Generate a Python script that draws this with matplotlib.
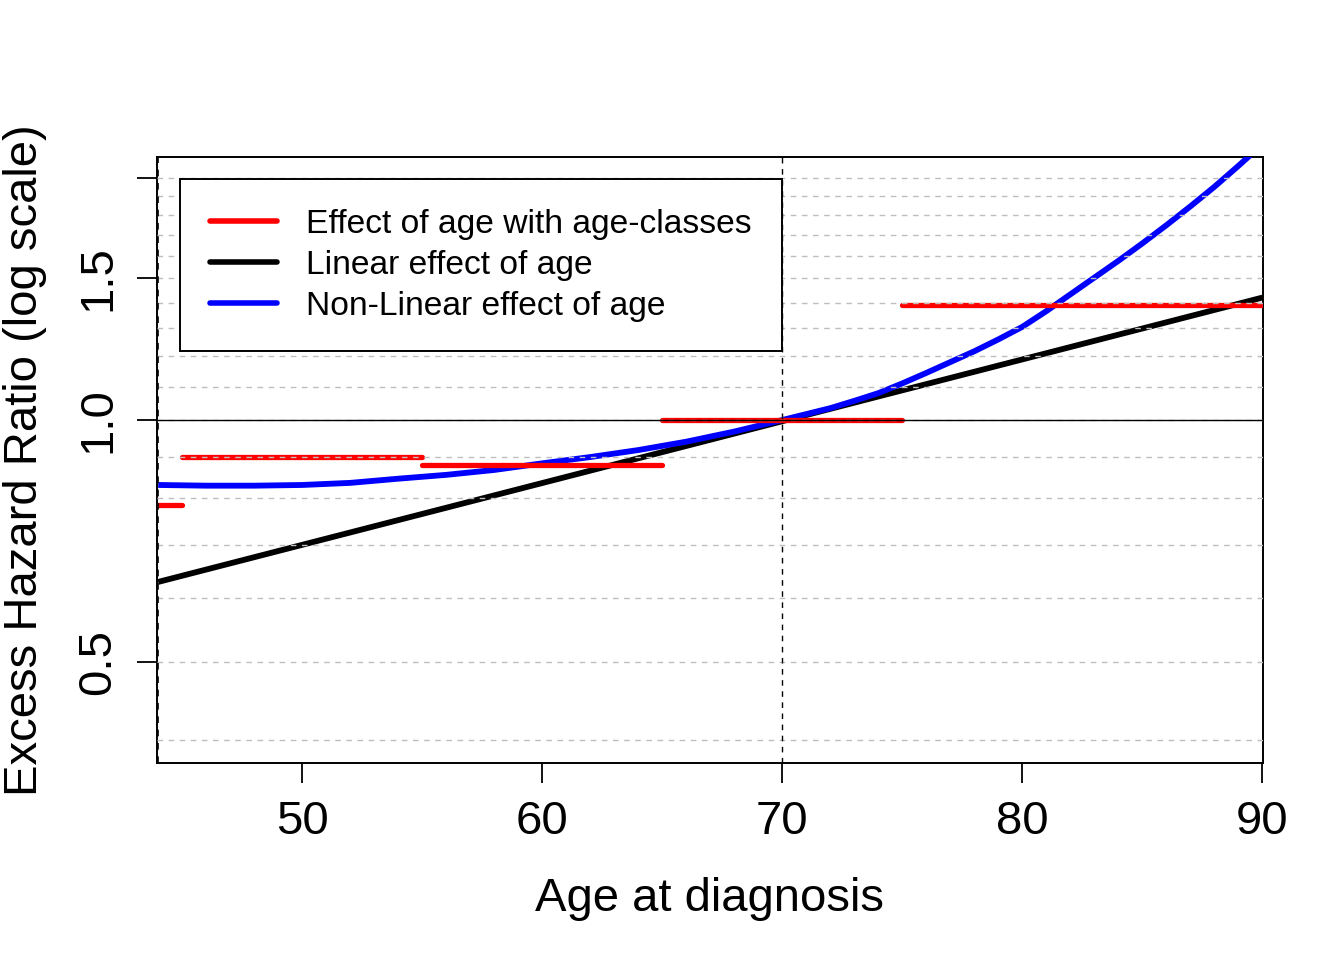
import numpy as np
import matplotlib.pyplot as plt
from matplotlib.lines import Line2D

plt.rcParams['font.family'] = ['Liberation Sans', 'DejaVu Sans']

# age classes (red steps)
class_start = [44, 45, 55, 65, 75]
class_end = [45, 55, 65, 75, 90]
class_hr = [0.784, 0.90, 0.879, 1.00, 1.39]

# linear effect of age (straight line on log scale)
lin_age = [44, 90]
lin_hr = [0.629, 1.42]

# non-linear effect of age (log HR)
nl_age = [44, 46, 48, 50, 52, 54, 56, 58, 60, 62, 64, 66, 68, 70,
          72, 73, 74, 75, 76, 77, 78, 79, 80, 81, 82, 83, 84, 85,
          86, 87, 88, 89, 90]
nl_loghr = [-0.186, -0.188, -0.188, -0.186, -0.180, -0.168, -0.157, -0.143,
            -0.124, -0.106, -0.086, -0.062, -0.033, 0.0,
            0.034, 0.055, 0.077, 0.105, 0.135, 0.166, 0.197, 0.231,
            0.267, 0.312, 0.360, 0.408, 0.456, 0.506, 0.558, 0.612,
            0.668, 0.728, 0.790]

grid_levels = np.round(np.arange(0.4, 2.01, 0.1), 1)
yticks = [0.5, 1.0, 1.5, 2.0]
ytick_labels = ['0.5', '1.0', '1.5', '']
xticks = [50, 60, 70, 80, 90]

fig = plt.figure(figsize=(13.44, 9.6), dpi=100)
ax = fig.add_axes([0.1168, 0.2052, 0.8229, 0.6313])

ax.plot(lin_age, lin_hr, color='black', lw=4.2, solid_capstyle='butt', zorder=3)
ax.plot(nl_age, np.exp(nl_loghr), color='blue', lw=4.2, solid_capstyle='butt',
        solid_joinstyle='round', zorder=3.2)
for i in range(len(class_hr)):
    ax.plot([class_start[i], class_end[i]], [class_hr[i], class_hr[i]],
            color='red', lw=3.8, solid_capstyle='round', zorder=3.4)

for g in grid_levels:
    ax.axhline(g, color='#BEBEBE', lw=1, dashes=(4, 4), zorder=3.6)
ax.axhline(1.0, color='black', lw=1, zorder=3.7)
ax.axvline(70, color='black', lw=1, dashes=(4, 4), zorder=3.7)
ax.axvline(44, color='black', lw=1.2, dashes=(4, 4), zorder=3.7)

ax.set_yscale('log')
ax.set_xlim(43.95, 90.02)
ax.set_ylim(0.3745, 2.124)
ax.set_yticks(yticks)
ax.set_yticklabels(ytick_labels, rotation=90, va='center')
ax.yaxis.set_minor_locator(plt.NullLocator())
ax.set_xticks(xticks)
ax.tick_params(axis='both', labelsize=34, length=14.5, width=1.3)
ax.tick_params(axis='x', pad=12)
ax.tick_params(axis='y', pad=12)

for s in ax.spines.values():
    s.set_linewidth(1.4)

ax.set_xlabel('Age at diagnosis', fontsize=34, labelpad=24)
ax.set_ylabel('Excess Hazard Ratio (log scale)', fontsize=34, labelpad=21)

# legend
handles = [Line2D([], [], color='red', lw=4, solid_capstyle='round'),
           Line2D([], [], color='black', lw=4, solid_capstyle='round'),
           Line2D([], [], color='blue', lw=4, solid_capstyle='round')]
labels = ['Effect of age with age-classes', 'Linear effect of age', 'Non-Linear effect of age']
leg = ax.legend(handles, labels, loc='upper left', bbox_to_anchor=(0.0208, 0.9637),
                borderaxespad=0, fontsize=24.2, frameon=True, fancybox=False,
                edgecolor='black', framealpha=1, handlelength=2.0,
                handletextpad=0.88, labelspacing=0.3, borderpad=0.88)
leg.get_frame().set_linewidth(1.4)
leg.set_zorder(10)

plt.savefig('out.png', dpi=100)
